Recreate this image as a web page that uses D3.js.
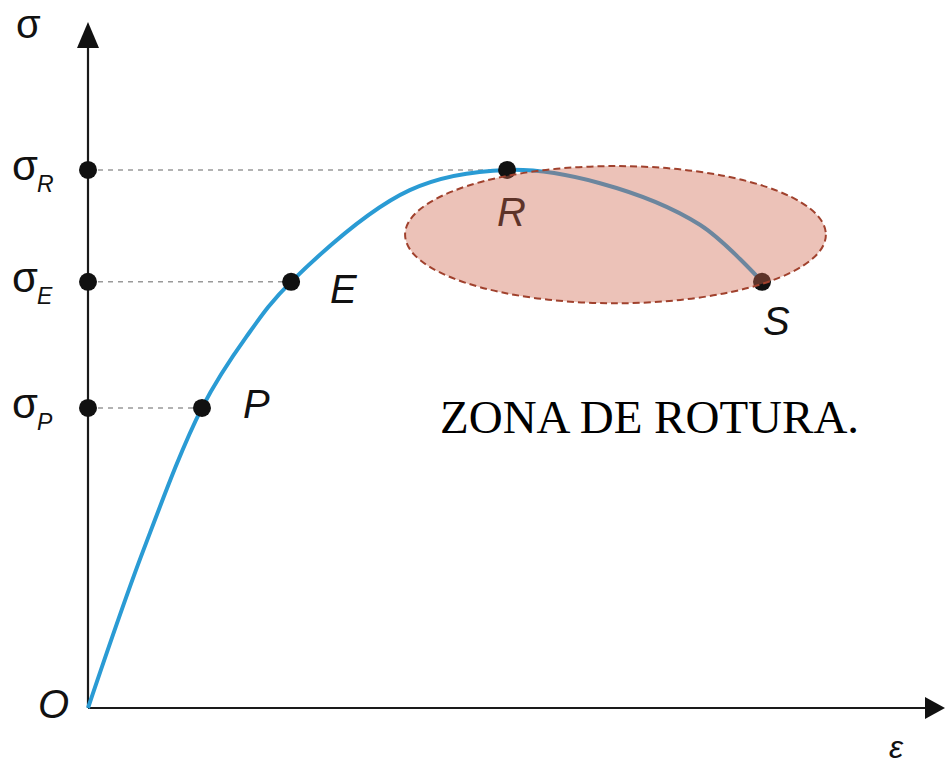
<!DOCTYPE html>
<html>
<head>
<meta charset="utf-8">
<script src="https://cdn.jsdelivr.net/npm/d3@7"></script>
<style>
  body { margin: 0; background: #fff; }
  .lbl { font-family: "Liberation Sans", Arial, sans-serif; font-style: italic; fill: #111; }
  .sig { font-family: "Liberation Sans", Arial, sans-serif; fill: #111; }
  .zone { font-family: "Liberation Serif", "Times New Roman", serif; fill: #000; }
</style>
</head>
<body>
<div id="chart"></div>
<script>
// strain (x) and stress (y), arbitrary units
let curveStrain = [0, 1.30, 2.66, 3.69, 4.74, 7.51, 9.78, 11.95, 14.28, 15.73];
let curveStress = [0, 3.70, 7.00, 8.65, 9.94, 12.08, 12.55, 12.24, 11.27, 9.94];

let pointNames  = ['P', 'E', 'R', 'S'];
let pointStrain = [2.66, 4.74, 9.78, 15.73];
let pointStress = [7.00, 9.94, 12.55, 9.94];

// stress levels marked on the vertical axis
let levelNames  = ['P', 'E', 'R'];
let levelStress = [7.00, 9.94, 12.55];
let levelStrain = [2.66, 4.74, 9.78];

// rupture zone (ellipse) centre and radii, data units
let zoneCentre = [12.31, 11.04];
let zoneRadii  = [4.91, 1.60];
let zoneText = 'ZONA DE ROTURA.';

const width = 948, height = 768;
const margin = ({top: 22, right: 3, bottom: 60, left: 88});

let x = d3.scaleLinear().domain([0, 20]).range([margin.left, width - margin.right]);
let y = d3.scaleLinear().domain([0, 16]).range([height - margin.bottom, margin.top]);

let svg = d3.select('#chart').append('svg')
    .attr('width', width)
    .attr('height', height);

// axes without ticks, arrow heads added by hand
let xAxis = d3.axisBottom(x).tickValues([]).tickSizeOuter(0);
let yAxis = d3.axisLeft(y).tickValues([]).tickSizeOuter(0);

svg.append('g')
    .attr('transform', `translate(0,${y(0)})`)
    .call(xAxis)
    .call(g => g.select('.domain').attr('stroke', '#1a1a1a').attr('stroke-width', 2.2)
        .attr('d', `M${x(0)},0H${x(20) - 16}`));

svg.append('g')
    .attr('transform', `translate(${x(0)},0)`)
    .call(yAxis)
    .call(g => g.select('.domain').attr('stroke', '#1a1a1a').attr('stroke-width', 2.2)
        .attr('d', `M0,${y(0)}V${y(16) + 20}`));

// arrow heads
let xt = x(20), yx = y(0);
svg.append('path')
    .attr('d', `M${xt},${yx} L${xt - 20},${yx - 11} L${xt - 20},${yx + 11} Z`)
    .attr('fill', '#111');
let yt = y(16), xy = x(0);
svg.append('path')
    .attr('d', `M${xy},${yt} L${xy - 11},${yt + 26} L${xy + 11},${yt + 26} Z`)
    .attr('fill', '#111');

// dashed guides from the axis to each point
svg.selectAll('line.guide')
    .data(levelStress)
    .enter().append('line')
    .attr('class', 'guide')
    .attr('x1', x(0) + 10)
    .attr('x2', (d, i) => x(levelStrain[i]) - 6)
    .attr('y1', d => y(d))
    .attr('y2', d => y(d))
    .attr('stroke', '#999')
    .attr('stroke-width', 1.5)
    .attr('stroke-dasharray', '5,5');

// stress-strain curve
let curveData = curveStrain.map((d, i) => [d, curveStress[i]]);
let line = d3.line()
    .x(d => x(d[0]))
    .y(d => y(d[1]))
    .curve(d3.curveCatmullRom.alpha(0.5));

svg.append('path')
    .datum(curveData)
    .attr('d', line)
    .attr('fill', 'none')
    .attr('stroke', '#2a9bd4')
    .attr('stroke-width', 4);

// dots on axis
svg.selectAll('circle.axisdot')
    .data(levelStress)
    .enter().append('circle')
    .attr('class', 'axisdot')
    .attr('cx', x(0))
    .attr('cy', d => y(d))
    .attr('r', 9)
    .attr('fill', '#111');

// dots on curve
svg.selectAll('circle.pt')
    .data(pointNames)
    .enter().append('circle')
    .attr('class', 'pt')
    .attr('cx', (d, i) => x(pointStrain[i]))
    .attr('cy', (d, i) => y(pointStress[i]))
    .attr('r', 9)
    .attr('fill', '#111');

// point letters
let labelOffset = {P: [41, 10], E: [39, 21], R: [-10, 56], S: [1, 53]};
svg.selectAll('text.pt')
    .data(pointNames)
    .enter().append('text')
    .attr('class', 'lbl')
    .attr('x', (d, i) => x(pointStrain[i]) + labelOffset[d][0])
    .attr('y', (d, i) => y(pointStress[i]) + labelOffset[d][1])
    .attr('font-size', 40)
    .text(d => d);

// rupture zone ellipse, semi-transparent over the curve
svg.append('ellipse')
    .attr('cx', x(zoneCentre[0]))
    .attr('cy', y(zoneCentre[1]))
    .attr('rx', x(zoneRadii[0]) - x(0))
    .attr('ry', y(0) - y(zoneRadii[1]))
    .attr('fill', '#cf664e')
    .attr('fill-opacity', 0.4)
    .attr('stroke', '#a0412d')
    .attr('stroke-width', 2)
    .attr('stroke-dasharray', '7,4');

// sigma labels on the axis
let sig = svg.selectAll('g.siglabel')
    .data(levelNames)
    .enter().append('g')
    .attr('class', 'siglabel')
    .attr('transform', (d, i) => `translate(12, ${y(levelStress[i])})`);

sig.append('text')
    .attr('class', 'sig')
    .attr('x', 0).attr('y', 10)
    .attr('font-size', 42)
    .text('σ');
sig.append('text')
    .attr('class', 'lbl')
    .attr('x', 25).attr('y', 22)
    .attr('font-size', 23)
    .text(d => d);

// axis names
svg.append('text')
    .attr('class', 'sig')
    .attr('x', 16).attr('y', 38)
    .attr('font-size', 40)
    .text('σ');

svg.append('text')
    .attr('class', 'lbl')
    .attr('x', 38).attr('y', y(0) + 10)
    .attr('font-size', 40)
    .text('O');

svg.append('text')
    .attr('class', 'lbl')
    .attr('x', 889).attr('y', 758)
    .attr('font-size', 32)
    .text('ε');

svg.append('text')
    .attr('class', 'zone')
    .attr('x', 440).attr('y', 433)
    .attr('font-size', 47)
    .text(zoneText);
</script>
</body>
</html>
